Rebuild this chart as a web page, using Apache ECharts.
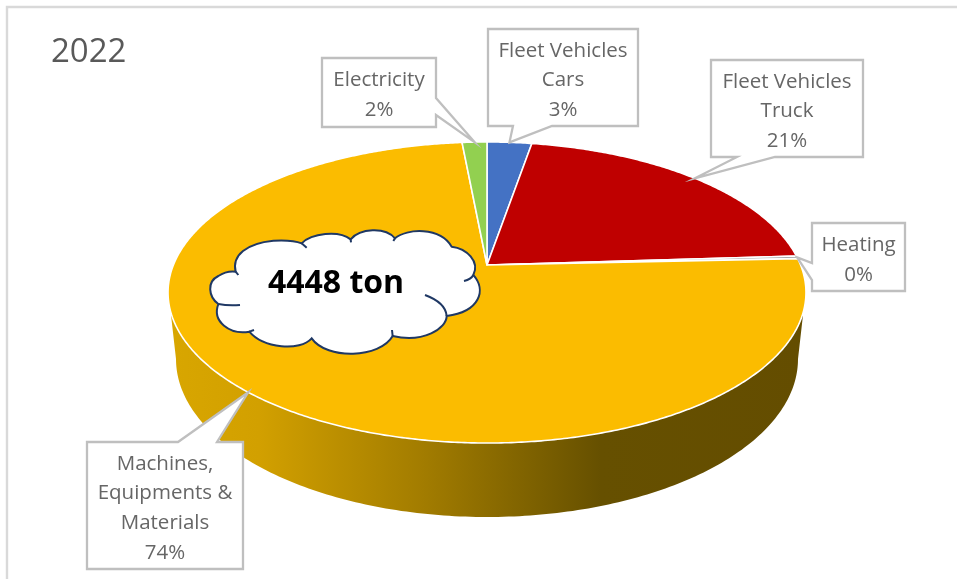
<!DOCTYPE html>
<html>
<head>
<meta charset="utf-8">
<style>html,body{margin:0;padding:0;background:#fff}#c{width:957px;height:579px}</style>
<script src="https://cdn.jsdelivr.net/npm/echarts@6/dist/echarts.min.js"></script>
</head>
<body>
<div id="c"></div>
<script>
// ---- data (clockwise from 12 o'clock) ----
const categories = ['Fleet Vehicles\nCars', 'Fleet Vehicles\nTruck', 'Heating', 'Machines,\nEquipments &\nMaterials', 'Electricity'];
const values = [2.7, 21.3, 0.3, 74.2, 1.5];
const colors = ['#4472C4', '#BF0000', '#A5A5A5', '#FBBC00', '#92D050'];
const titleText = '2022';
const cloudText = '4448 ton';

// ---- tilted-disc projection: apex, radii, perspective ----
const G = { cx: 487, cy: 265, a: 313.6, b: 145.5, k: 0.1827 };
const WALL = { rimY: 315, rimDx: 316, midY: 359, a: 311, b: 158 };
const LABEL_FONT = '20.5px "Open Sans", sans-serif';
const BOX = '#BFBFBF';

function project(frac) {
  const t = frac * 2 * Math.PI, u = Math.sin(t), v = Math.cos(t), w = 1 + G.k * v;
  return [G.cx + G.a * u / w, G.cy - G.b * v / w];
}
const total = values.reduce((s, v) => s + v, 0);
function startOf(i) { let s = 0; for (let j = 0; j < i; j++) s += values[j]; return s / total; }

// Callout boxes: [left, top, right, bottom], wedge edge and wedge base span
const callouts = [
  { box: [488, 29, 638, 126], edge: 'bottom', base: [513, 552] },
  { box: [711, 60, 863, 157], edge: 'bottom', base: [737, 775] },
  { box: [812, 223, 905, 291], edge: 'left', base: [263, 280] },
  { box: [87, 442, 243, 569], edge: 'top', base: [178, 217] },
  { box: [322, 58, 436, 127], edge: 'right', base: [98, 115] }
];

function calloutOutline(c, tip) {
  const [l, t, r, b] = c.box, [p, q] = c.base;
  if (c.edge === 'bottom') return [[l, t], [r, t], [r, b], [q, b], tip, [p, b], [l, b]];
  if (c.edge === 'top') return [[l, t], [p, t], tip, [q, t], [r, t], [r, b], [l, b]];
  if (c.edge === 'left') return [[l, t], [r, t], [r, b], [l, b], [l, q], tip, [l, p]];
  return [[l, t], [r, t], [r, p], tip, [r, q], [r, b], [l, b]];
}

const seriesData = values.map((v, i) => ({ name: categories[i], value: [i, v] }));

const cloudOutline = 'M85,282 C55,260 50,215 85,198 C100,188 120,183 137,185 C125,135 170,100 250,92 C285,90 315,92 335,100 C365,70 445,60 482,88 C510,55 585,50 615,85 C650,55 750,50 785,110 C830,115 870,155 850,195 C890,240 870,305 770,318 C770,355 700,400 608,378 C570,445 410,450 365,385 C330,425 220,415 178,365 C120,375 65,335 85,282 Z';
const cloudTails = 'M85,282 C100,285 125,287 150,285 M335,100 L350,113 M482,88 L483,97 M615,85 L610,93 M850,195 C845,205 835,210 822,213 M770,318 C768,290 740,268 705,255 M608,378 L606,360 M178,365 L192,360 M137,185 L145,195';

const chart = echarts.init(document.getElementById('c'), null, { renderer: 'canvas' });
chart.setOption({
  animation: false,
  backgroundColor: '#fff',
  title: { text: titleText, left: 46, top: 31, textStyle: { fontFamily: 'Open Sans', fontSize: 33, fontWeight: 'normal', color: '#595959' } },
  graphic: [
    { type: 'polyline', z: 0, shape: { points: [[7, 579], [7, 7], [957, 7]] }, style: { fill: null, stroke: '#D9D9D9', lineWidth: 2.4 } }
  ],
  series: [
    { // side wall of the disc
      type: 'custom', coordinateSystem: 'none', z: 1, silent: true,
      data: [seriesData[3]],
      renderItem() {
        const pts = [[G.cx - WALL.rimDx, WALL.rimY]];
        for (let d = 180; d >= 0; d -= 1) {
          const r = d * Math.PI / 180;
          pts.push([G.cx + WALL.a * Math.cos(r), WALL.midY + WALL.b * Math.sin(r)]);
        }
        pts.push([G.cx + WALL.rimDx, WALL.rimY]);
        return {
          type: 'polygon', shape: { points: pts },
          style: { fill: new echarts.graphic.LinearGradient(0, 0, 1, 0, [
            { offset: 0, color: '#D8A600' }, { offset: 0.14, color: '#D2A000' },
            { offset: 0.4, color: '#A27C00' }, { offset: 0.68, color: '#665000' }, { offset: 1, color: '#644D00' }
          ]) }
        };
      }
    },
    { // top face
      type: 'custom', coordinateSystem: 'none', z: 2, silent: true,
      data: seriesData,
      renderItem(params, api) {
        const i = api.value(0), from = startOf(i), to = from + api.value(1) / total;
        const pts = [[G.cx, G.cy]];
        const n = Math.max(2, Math.ceil((to - from) * 720));
        for (let j = 0; j <= n; j++) pts.push(project(from + (to - from) * j / n));
        return { type: 'polygon', shape: { points: pts }, style: { fill: colors[i], stroke: '#fff', lineWidth: 1.6, lineJoin: 'round' } };
      }
    },
    { // total annotation cloud
      type: 'custom', coordinateSystem: 'none', z: 4, silent: true,
      data: [{ name: cloudText, value: [0] }],
      renderItem() {
        const place = { x: 190, y: 210, scaleX: 1 / 3, scaleY: 1 / 3 };
        return {
          type: 'group',
          children: [
            Object.assign({ type: 'path', shape: { pathData: cloudOutline }, style: { fill: '#fff', stroke: '#1F3864', lineWidth: 6 } }, place),
            Object.assign({ type: 'path', shape: { pathData: cloudTails }, style: { fill: 'none', stroke: '#1F3864', lineWidth: 6 } }, place),
            { type: 'text', x: 336, y: 284, style: { text: cloudText, align: 'center', verticalAlign: 'middle', font: 'bold 32px "Open Sans", sans-serif', fill: '#000' } }
          ]
        };
      }
    },
    { // data-label callouts
      type: 'custom', coordinateSystem: 'none', z: 5, silent: true,
      data: seriesData,
      renderItem(params, api) {
        const i = api.value(0), v = api.value(1), c = callouts[i];
        const mid = startOf(i) + v / total / 2;
        const tip = project(mid);
        const [l, t, r, b] = c.box;
        return {
          type: 'group',
          children: [
            { type: 'polygon', shape: { points: calloutOutline(c, tip) }, style: { fill: '#fff', stroke: BOX, lineWidth: 2.3, lineJoin: 'miter' } },
            { type: 'text', style: {
              text: categories[i] + '\n' + Math.round(v / total * 100) + '%',
              x: (l + r) / 2, y: (t + b) / 2 + 3, align: 'center', verticalAlign: 'middle',
              font: LABEL_FONT, lineHeight: 29.7, fill: '#666666' } }
          ]
        };
      }
    }
  ]
});
</script>
</body>
</html>
